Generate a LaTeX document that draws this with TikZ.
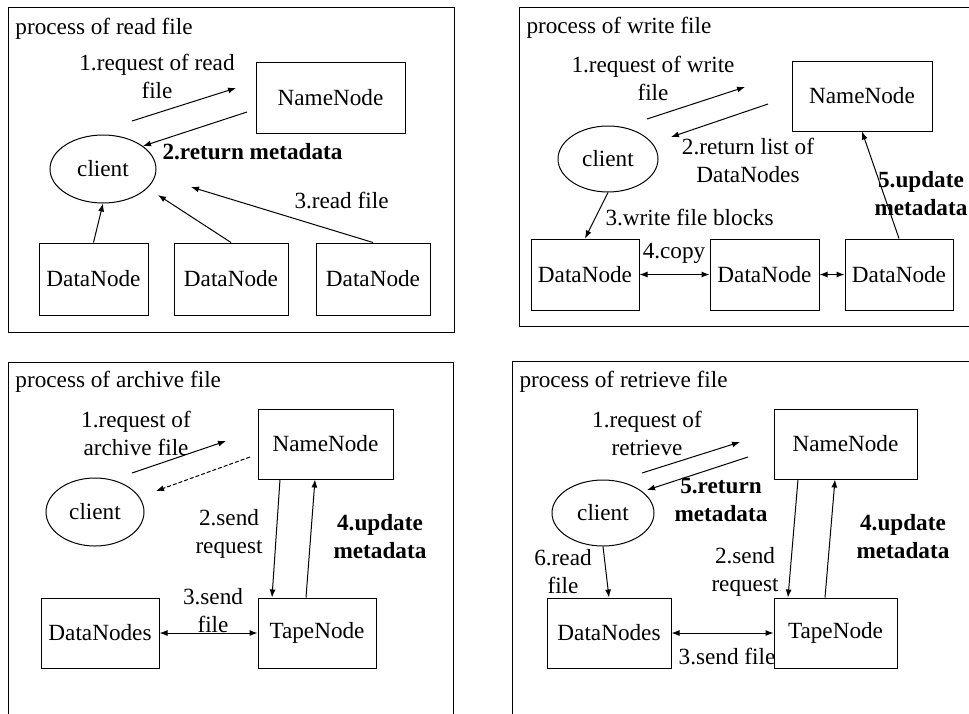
\documentclass[tikz,border=0pt]{standalone}
\usepackage{fontspec}
\setmainfont{Liberation Serif}
\usetikzlibrary{shapes,arrows.meta}

\tikzset{
  box/.style={draw, rectangle, inner sep=0pt},
  client/.style={draw, ellipse, inner sep=0pt},
  lbl/.style={align=center, inner sep=0pt},
  title/.style={anchor=west, inner sep=0pt},
}

\begin{document}
\begin{tikzpicture}[x=0.5pt, y=-0.5pt, line width=0.5pt,
    font=\fontsize{11.6}{14}\selectfont, >={Latex[length=4pt,width=3pt]}]
    \useasboundingbox (0,0) rectangle (969,713);

    % Read file
    \draw (8,7) rectangle (454,332);
    \node[title] (t1) at (15,29) {process of read file};
    \node[box, minimum width=74.5pt, minimum height=35.5pt] (n1) at (330.5,97.5) {NameNode};
    \node[client, minimum width=53pt, minimum height=34pt] (c1) at (103,169) {client};
    \node[box, minimum width=54.5pt, minimum height=36pt] (d1a) at (93.5,279) {DataNode};
    \node[box, minimum width=57pt, minimum height=36pt] (d1b) at (231,279) {DataNode};
    \node[box, minimum width=57pt, minimum height=36pt] (d1c) at (373,279) {DataNode};
    \coordinate (q1s) at (132,121);
    \coordinate (q1e) at (236,88);
    \coordinate (m1s) at (247,112);
    \coordinate (m1e) at (143,146);
    \coordinate (r1b) at (158,195);
    \coordinate (r1c) at (191,187);
    \draw[->] (q1s) -- (q1e);
    \node[lbl] (l1a) at (157,76) {1.request of read\\file};
    \draw[->] (m1s) -- (m1e);
    \node[lbl, anchor=west] (l1b) at (162,152) {\bfseries 2.return metadata};
    \draw[->] (d1a.north) -- (c1.south);
    \draw[->] (d1b.north) -- (r1b);
    \draw[->] (d1c.north) -- (r1c);
    \node[lbl, anchor=west] (l1c) at (294,200) {3.read file};

    % Write file
    \draw (519,7) rectangle (990,326);
    \node[title] (t2) at (526,28) {process of write file};
    \node[box, minimum width=70pt, minimum height=35pt] (n2) at (862,96) {NameNode};
    \node[client, minimum width=50pt, minimum height=33pt] (c2) at (608,159) {client};
    \node[box, minimum width=54pt, minimum height=35.5pt] (d2a) at (585,274.5) {DataNode};
    \node[box, minimum width=54.5pt, minimum height=35.5pt] (d2b) at (764.5,274.5) {DataNode};
    \node[box, minimum width=54pt, minimum height=35.5pt] (d2c) at (899,274.5) {DataNode};
    \coordinate (q2s) at (647,119);
    \coordinate (q2e) at (745,87);
    \coordinate (m2s) at (768,104);
    \coordinate (m2e) at (671,137);
    \draw[->] (q2s) -- (q2e);
    \node[lbl] (l2a) at (653,78) {1.request of write\\file};
    \draw[->] (m2s) -- (m2e);
    \node[lbl] (l2b) at (748,160.5) {2.return list of\\DataNodes};
    \draw[->] (c2.south) -- (d2a.north);
    \node[lbl, anchor=west] (l2c) at (605,217) {3.write file blocks};
    \draw[<->] (d2a.east) -- (d2b.west);
    \node[lbl] (l2d) at (674,253) {4.copy};
    \draw[<->] (d2b.east) -- (d2c.west);
    \draw[->] (d2c.north) -- (n2.south);
    \node[lbl, font=\fontsize{11.6}{14}\selectfont\bfseries] (l2e) at (921,194) {5.update\\metadata};

    % Archive file
    \draw (8,362) rectangle (453,730);
    \node[title] (t3) at (15,382) {process of archive file};
    \node[box, minimum width=67.5pt, minimum height=35pt] (n3) at (325.5,444) {NameNode};
    \node[client, minimum width=49pt, minimum height=34pt] (c3) at (95,512) {client};
    \node[box, minimum width=59pt, minimum height=35pt] (dn3) at (100,633) {DataNodes};
    \node[box, minimum width=59pt, minimum height=35pt] (tp3) at (317,633) {TapeNode};
    \coordinate (q3s) at (132,473);
    \coordinate (q3e) at (226,441);
    \coordinate (m3s) at (250,457);
    \coordinate (m3e) at (156,491);
    \draw[->] (q3s) -- (q3e);
    \node[lbl] (l3a) at (136,433) {1.request of\\archive file};
    \draw[->, dashed, dash pattern=on 2pt off 1pt] (m3s) -- (m3e);
    \draw[->] ([xshift=-22.75pt]n3.south) -- ([xshift=-22.5pt]tp3.north);
    \node[lbl] (l3b) at (229,534) {2.send\\request};
    \draw[->] ([xshift=-5.5pt]tp3.north) -- ([xshift=-5.25pt]n3.south);
    \node[lbl, font=\fontsize{11.6}{14}\selectfont\bfseries] (l3c) at (380,537) {4.update\\metadata};
    \draw[<->] (dn3.east) -- (tp3.west);
    \node[lbl] (l3d) at (213,610.5) {3.send\\file};

    % Retrieve file
    \draw (512,361) rectangle (990,730);
    \node[title] (t4) at (519,382) {process of retrieve file};
    \node[box, minimum width=71.5pt, minimum height=35pt] (n4) at (845.5,444) {NameNode};
    \node[client, minimum width=51pt, minimum height=33pt] (c4) at (603,513) {client};
    \node[box, minimum width=62pt, minimum height=35pt] (dn4) at (609,633) {DataNodes};
    \node[box, minimum width=61.5pt, minimum height=35pt] (tp4) at (835.5,633) {TapeNode};
    \coordinate (q4s) at (642,473);
    \coordinate (q4e) at (740,442);
    \coordinate (m4s) at (748,457);
    \coordinate (m4e) at (647,490);
    \draw[->] (q4s) -- (q4e);
    \node[lbl] (l4a) at (647,433) {1.request of\\retrieve};
    \draw[->] (m4s) -- (m4e);
    \node[lbl, font=\fontsize{11.6}{14}\selectfont\bfseries] (l4b) at (721,500.5) {5.return\\metadata};
    \draw[->] (c4.south) -- (dn4.north);
    \node[lbl] (l4c) at (563,571.5) {6.read\\file};
    \draw[->] ([xshift=-23.75pt]n4.south) -- ([xshift=-23.75pt]tp4.north);
    \node[lbl] (l4d) at (745,572) {2.send\\request};
    \draw[->] ([xshift=-5.25pt]tp4.north) -- ([xshift=-5.25pt]n4.south);
    \node[lbl, font=\fontsize{11.6}{14}\selectfont\bfseries] (l4e) at (903,537) {4.update\\metadata};
    \draw[<->] (dn4.east) -- (tp4.west);
    \node[lbl] (l4f) at (727,656) {3.send file};
\end{tikzpicture}
\end{document}
